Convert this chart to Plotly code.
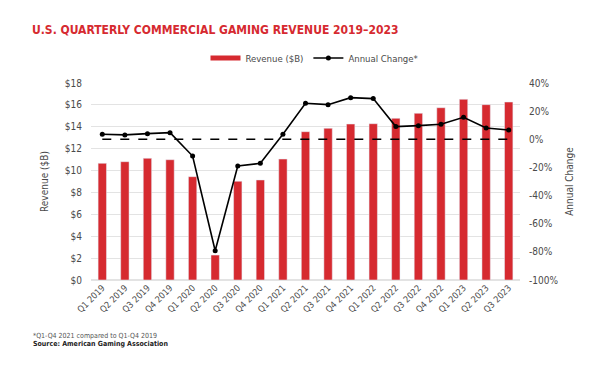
import plotly.graph_objects as go

quarters = ["Q1 2019", "Q2 2019", "Q3 2019", "Q4 2019", "Q1 2020", "Q2 2020", "Q3 2020",
            "Q4 2020", "Q1 2021", "Q2 2021", "Q3 2021", "Q4 2021", "Q1 2022", "Q2 2022",
            "Q3 2022", "Q4 2022", "Q1 2023", "Q2 2023", "Q3 2023"]
revenue = [10.66, 10.81, 11.12, 10.99, 9.44, 2.28, 9.02, 9.14, 11.05, 13.55, 13.86,
           14.25, 14.28, 14.77, 15.23, 15.74, 16.51, 16.02, 16.26]
annual_change = [3.6, 3.1, 4.0, 4.7, -11.9, -79.2, -19.0, -17.1, 3.6, 25.6, 24.6,
                 29.6, 28.9, 9.0, 9.7, 10.7, 15.6, 8.0, 6.6]
baseline = [0] * len(quarters)

left_ticks = list(range(0, 19, 2))
left_labels = [f"${v}" for v in left_ticks]
right_ticks = list(range(-100, 41, 20))
right_labels = [f"{v}%" for v in right_ticks]

FONT = "DejaVu Sans Condensed, Liberation Sans Narrow, Roboto, sans-serif"
RED = "#d62a30"
GRAY = "#4a4a4a"
OFF = 8  # page body margin offset

fig = go.Figure()
fig.add_trace(go.Bar(x=quarters, y=revenue, name="Revenue ($B)", marker_color=RED,
                     yaxis="y", showlegend=False))
# legend-only entry showing the wide red swatch
fig.add_trace(go.Scatter(x=[quarters[0]], y=[None], mode="lines", name="Revenue ($B)",
                         line=dict(color=RED, width=5), yaxis="y", hoverinfo="skip"))
fig.add_trace(go.Scatter(x=quarters, y=baseline, mode="lines", yaxis="y2",
                         line=dict(color="black", width=1.6, dash="dash"),
                         showlegend=False, hoverinfo="skip"))
fig.add_trace(go.Scatter(x=quarters, y=annual_change, name="Annual Change*",
                         mode="lines+markers", yaxis="y2",
                         line=dict(color="black", width=1.6),
                         marker=dict(color="black", size=5)))

fig.update_layout(
    width=602, height=372,
    margin=dict(l=91 - OFF, r=602 - 520 + OFF, t=83 - OFF, b=372 - 280 + OFF,
                autoexpand=False),
    paper_bgcolor="white", plot_bgcolor="white",
    font=dict(family=FONT, color=GRAY, size=10),
    bargap=0.63,
    title=dict(text="<b>U.S. QUARTERLY COMMERCIAL GAMING REVENUE 2019–2023</b>",
               x=(32 - OFF) / 602, xanchor="left", y=1 - (30 - OFF) / 372,
               yanchor="middle", font=dict(family=FONT, size=12, color=RED)),
    legend=dict(orientation="h", x=(315 - OFF) / 602, xref="container",
                xanchor="center", y=1 - (58 - OFF) / 372,
                yref="container", yanchor="middle", font=dict(size=9.5, color=GRAY),
                itemwidth=30, tracegroupgap=0),
    xaxis=dict(type="category", range=[-0.5, len(quarters) - 0.5], tickangle=-45,
               showgrid=False, showline=False,
               ticks="", tickfont=dict(size=9, color=GRAY), automargin=False),
    yaxis=dict(range=[0, 18], tickvals=left_ticks, ticktext=left_labels,
               showgrid=True, gridcolor="#e3e3e3", gridwidth=1, zeroline=True,
               zerolinecolor="#e3e3e3", ticks="", ticklabelstandoff=8,
               tickfont=dict(size=10, color=GRAY), automargin=False,
               title=dict(text="Revenue ($B)", font=dict(size=10, color=GRAY),
                          standoff=14)),
    yaxis2=dict(range=[-100, 40], tickvals=right_ticks, ticktext=right_labels,
                overlaying="y", side="right", showgrid=False, zeroline=False,
                ticks="", ticklabelstandoff=8, tickfont=dict(size=10, color=GRAY),
                automargin=False,
                title=dict(text="Annual Change", font=dict(size=10, color=GRAY),
                           standoff=8)),
    showlegend=True,
)

fig.add_annotation(text="*Q1-Q4 2021 compared to Q1-Q4 2019", xref="paper", yref="paper",
                   x=(31 - 91) / (520 - 91), y=-(336 - 280) / (280 - 83),
                   xanchor="left", yanchor="middle", showarrow=False,
                   font=dict(size=7, color="#555", family=FONT))
fig.add_annotation(text="<b>Source: American Gaming Association</b>", xref="paper",
                   yref="paper", x=(31 - 91) / (520 - 91),
                   y=-(344 - 280) / (280 - 83), xanchor="left", yanchor="middle",
                   showarrow=False, font=dict(size=7, color="#222", family=FONT))

fig.write_html("out.html")
